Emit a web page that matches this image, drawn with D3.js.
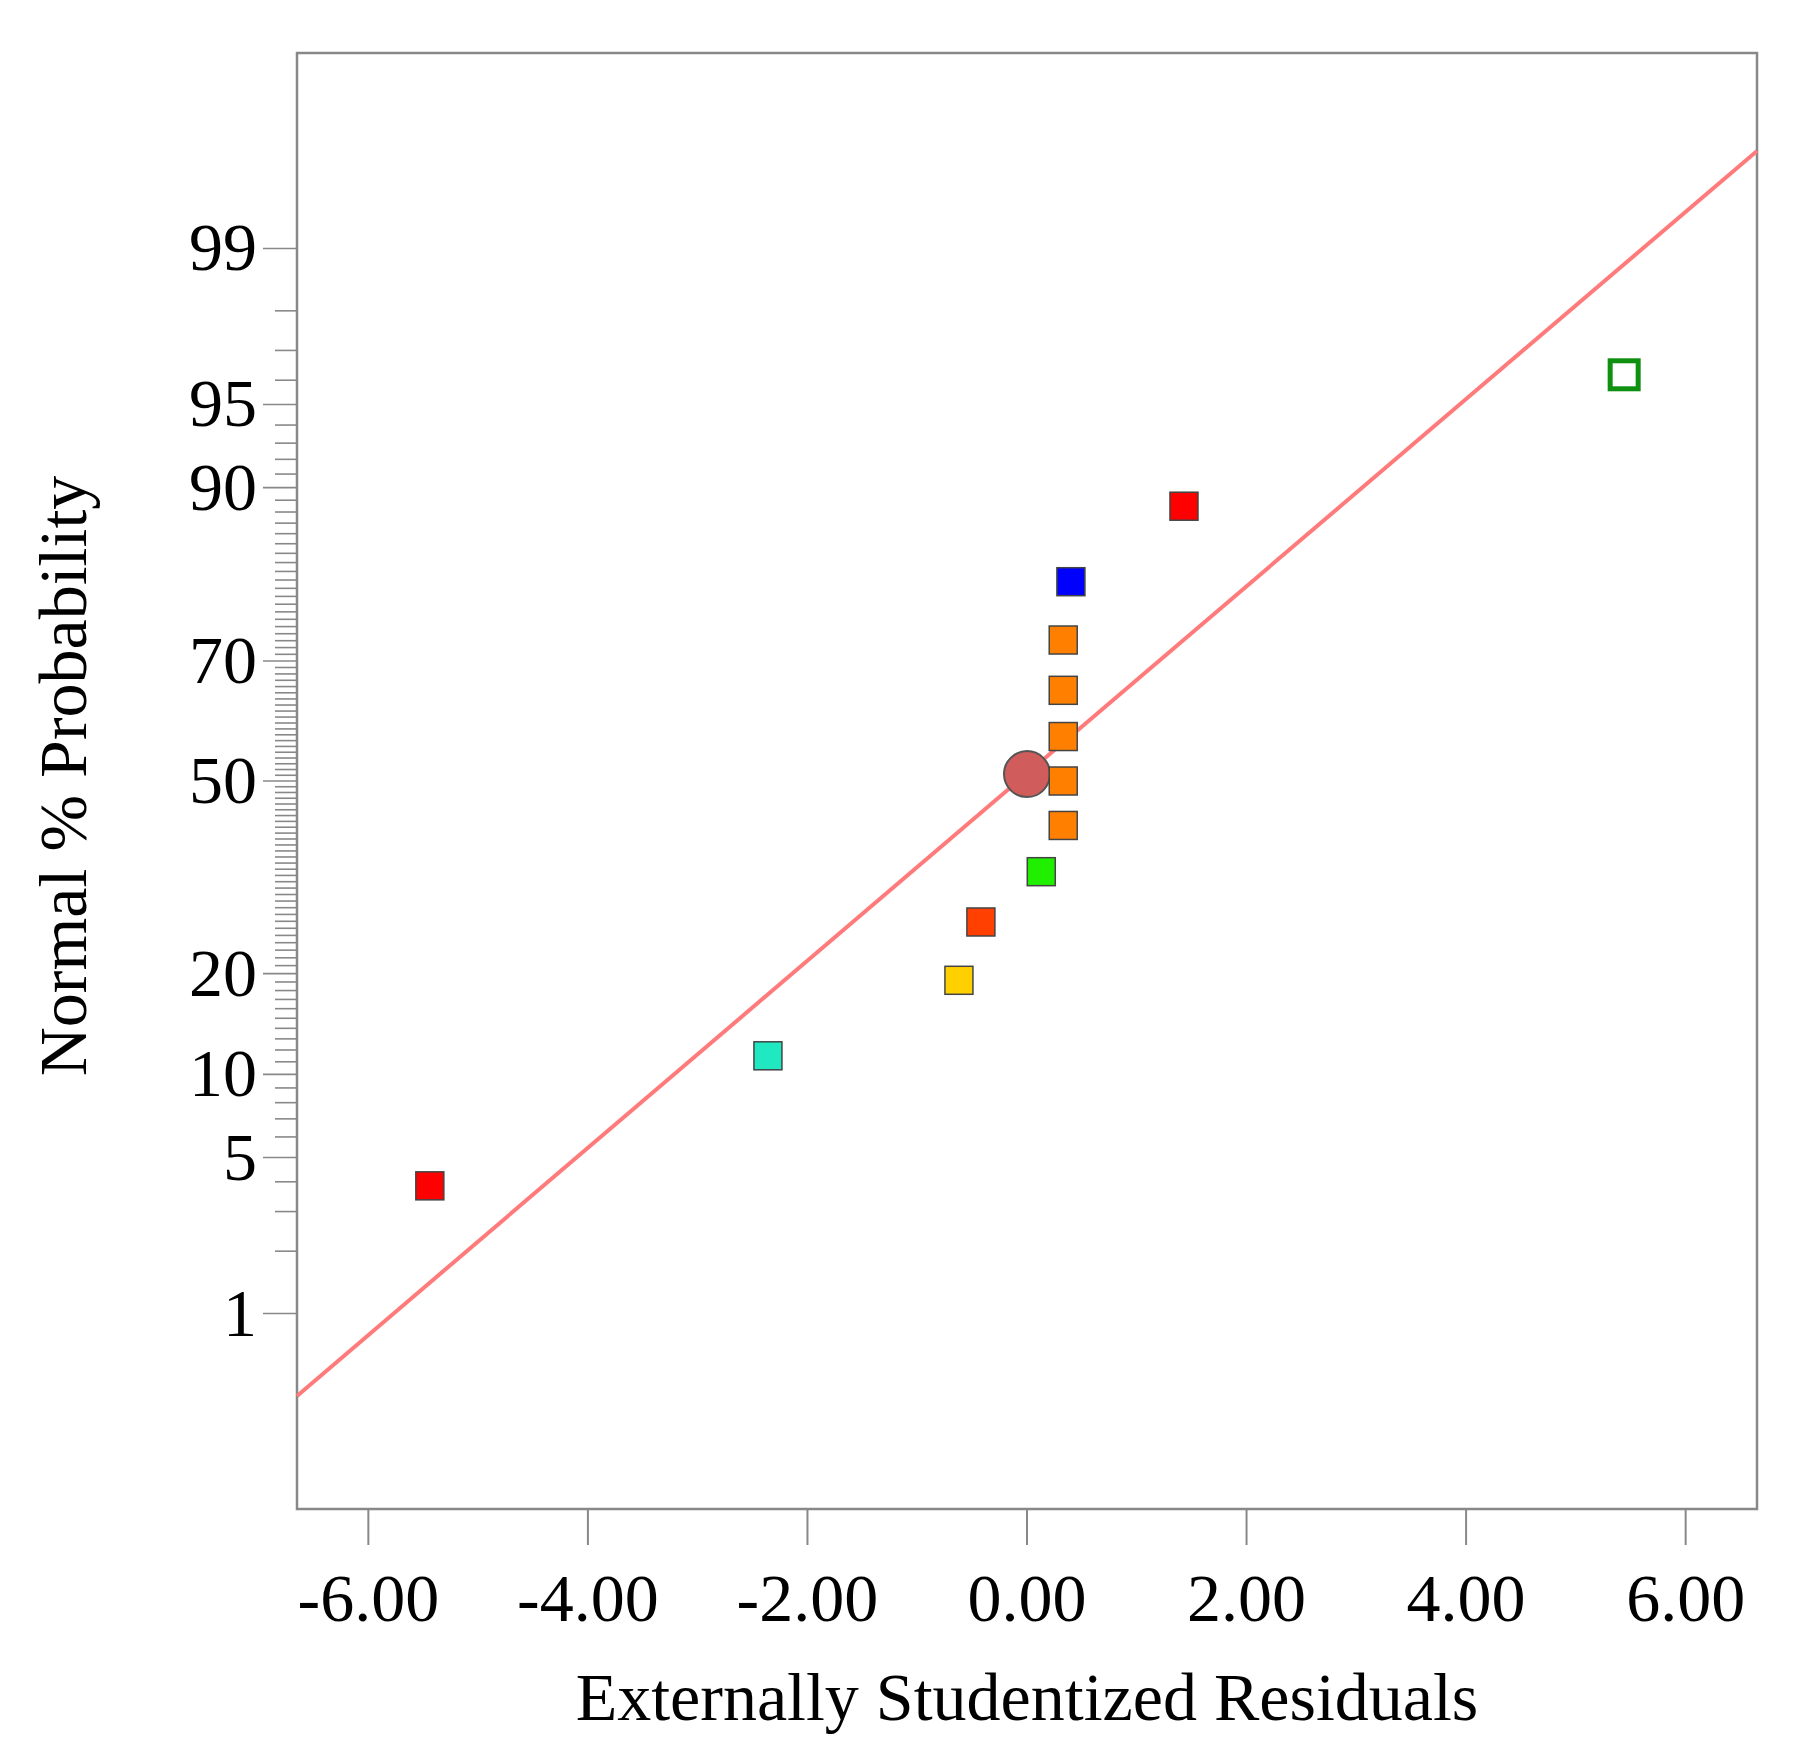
<!DOCTYPE html>
<html><head><meta charset="utf-8">
<script src="https://cdn.jsdelivr.net/npm/d3@7"></script>
<style>body{margin:0;background:#fff}</style>
</head><body>
<div id="chart"></div>
<script>
// Data
var residuals = [-5.44, -2.36, -0.62, -0.42, 0.13, 0.33, 0.33, 0.33, 0.33, 0.33, 0.40, 1.43, 5.44]
var probs = [3.85, 11.5, 19.2, 26.9, 34.6, 42.3, 50.0, 57.7, 65.4, 73.1, 80.8, 88.5, 96.2]
var colors = ['#ff0000', '#20e8c0', '#ffd000', '#ff4000', '#20f000', '#ff8000', '#ff8000', '#ff8000', '#ff8000', '#ff8000', '#0000ff', '#ff0000', 'none']
var centerPoint = {x: 0, p: 51.2}
var fitLine = [{x: -6.65, z: -2.686}, {x: 6.65, z: 2.752}]
var xTicks = [-6, -4, -2, 0, 2, 4, 6]
var yLabels = [1, 5, 10, 20, 50, 70, 90, 95, 99]

var W = 1819, H = 1746
var mLeft = 297, mRight = 1757, mTop = 53, mBottom = 1509
var font = 'Liberation Serif, Times New Roman, serif'
var fs = 68

var svg = d3.select('#chart').append('svg').attr('width', W).attr('height', H)

var x = d3.scaleLinear().domain([-6.65, 6.65]).range([mLeft, mRight])
var zScale = d3.scaleLinear().domain([-3.18, 3.18]).range([mBottom, mTop])
function y(p) { return zScale(probit(p / 100)) }
function probit(p) {
  // inverse normal (Acklam)
  var a = [-39.6968302866538, 220.946098424521, -275.928510446969, 138.357751867269, -30.6647980661472, 2.50662827745924]
  var b = [-54.4760987982241, 161.585836858041, -155.698979859887, 66.8013118877197, -13.2806815528857]
  var c = [-0.00778489400243029, -0.322396458041136, -2.40075827716184, -2.54973253934373, 4.37466414146497, 2.93816398269878]
  var d = [0.00778469570904146, 0.32246712907004, 2.445134137143, 3.75440866190742]
  var q, r
  if (p < 0.02425) {
    q = Math.sqrt(-2 * Math.log(p))
    return (((((c[0]*q+c[1])*q+c[2])*q+c[3])*q+c[4])*q+c[5]) / ((((d[0]*q+d[1])*q+d[2])*q+d[3])*q+1)
  } else if (p > 1 - 0.02425) {
    q = Math.sqrt(-2 * Math.log(1 - p))
    return -(((((c[0]*q+c[1])*q+c[2])*q+c[3])*q+c[4])*q+c[5]) / ((((d[0]*q+d[1])*q+d[2])*q+d[3])*q+1)
  }
  q = p - 0.5; r = q * q
  return (((((a[0]*r+a[1])*r+a[2])*r+a[3])*r+a[4])*r+a[5])*q / (((((b[0]*r+b[1])*r+b[2])*r+b[3])*r+b[4])*r+1)
}

// Frame
svg.append('rect').attr('x', mLeft).attr('y', mTop).attr('width', mRight - mLeft).attr('height', mBottom - mTop)
  .attr('fill', 'none').attr('stroke', '#888').attr('stroke-width', 2.5)

// X axis
var xg = svg.append('g')
xTicks.forEach(function(t){
  xg.append('line').attr('x1', x(t)).attr('x2', x(t)).attr('y1', mBottom).attr('y2', mBottom + 36)
    .attr('stroke', '#888').attr('stroke-width', 2)
  xg.append('text').attr('x', x(t)).attr('y', mBottom + 112).attr('text-anchor', 'middle')
    .attr('font-family', font).attr('font-size', fs).text(t.toFixed(2))
})
svg.append('text').attr('x', (mLeft + mRight) / 2).attr('y', 1720).attr('text-anchor', 'middle')
  .attr('font-family', font).attr('font-size', fs).text('Externally Studentized Residuals')

// Y axis (probability scale)
var yg = svg.append('g')
d3.range(1, 100).forEach(function(p){
  var major = yLabels.indexOf(p) >= 0
  yg.append('line').attr('x1', mLeft - (major ? 34 : 22)).attr('x2', mLeft).attr('y1', y(p)).attr('y2', y(p))
    .attr('stroke', '#888').attr('stroke-width', 1.6)
})
yLabels.forEach(function(p){
  yg.append('text').attr('x', mLeft - 40).attr('y', y(p) + 22).attr('text-anchor', 'end')
    .attr('font-family', font).attr('font-size', fs).text(p)
})
svg.append('text').attr('transform', 'translate(86,' + (y(50) - 5) + ') rotate(-90)')
  .attr('text-anchor', 'middle').attr('font-family', font).attr('font-size', fs).text('Normal % Probability')

// Fit line
svg.append('line').attr('x1', x(fitLine[0].x)).attr('y1', zScale(fitLine[0].z))
  .attr('x2', x(fitLine[1].x)).attr('y2', zScale(fitLine[1].z))
  .attr('stroke', '#ff7b7b').attr('stroke-width', 4)

// Center point
svg.append('circle').attr('cx', x(centerPoint.x)).attr('cy', y(centerPoint.p)).attr('r', 23)
  .attr('fill', '#d05c5c').attr('stroke', '#555').attr('stroke-width', 2)

// Residual points
var s = 28
residuals.forEach(function(r, i){
  var hollow = colors[i] === 'none'
  svg.append('rect').attr('x', x(r) - s / 2).attr('y', y(probs[i]) - s / 2).attr('width', s).attr('height', s)
    .attr('fill', hollow ? '#fff' : colors[i])
    .attr('stroke', hollow ? '#109010' : '#444').attr('stroke-width', hollow ? 5 : 1.5)
})
</script>
</body></html>
